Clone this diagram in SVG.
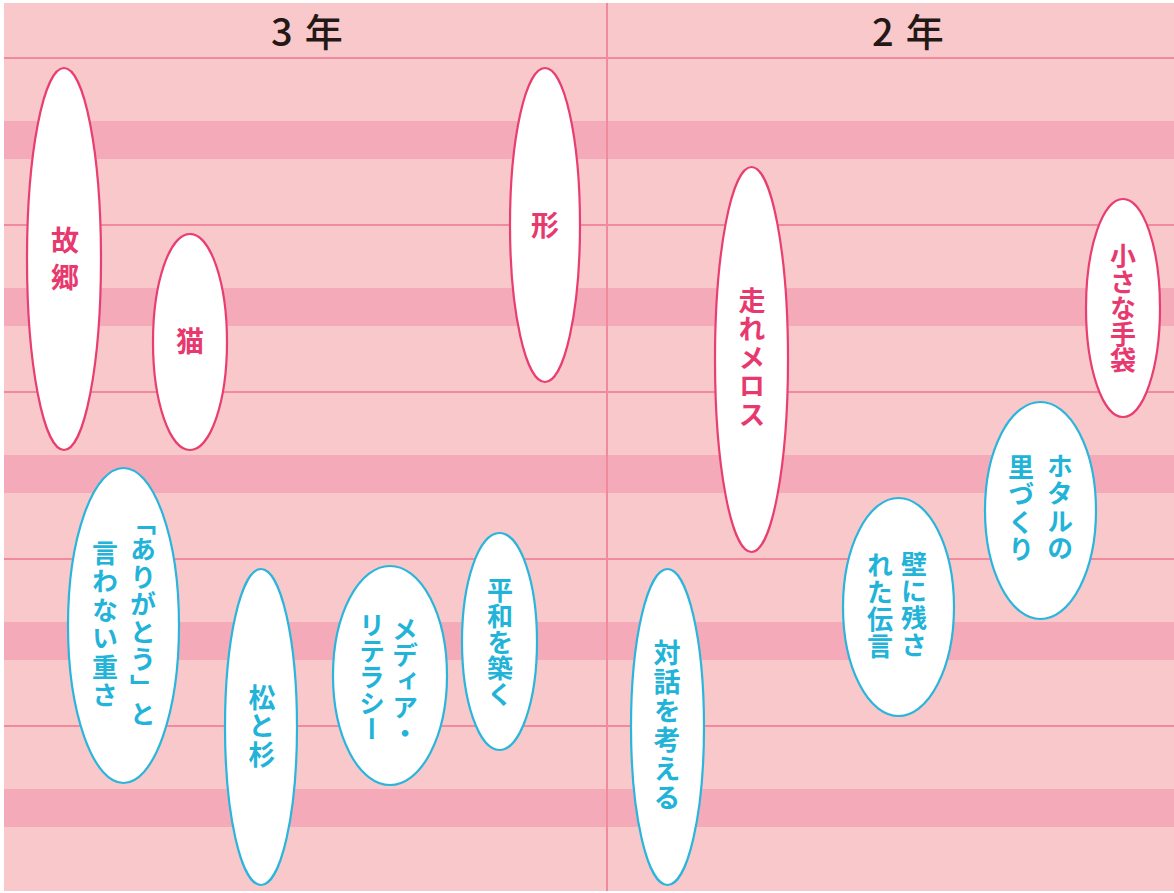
<svg xmlns="http://www.w3.org/2000/svg" width="1174" height="893" viewBox="0 0 1174 893">
<style>
.bg{fill:#f8c8cb}
.band{fill:#f4aab9}
.rule{stroke:#f28a9e;stroke-width:2;fill:none}
.head{font-family:"Noto Sans CJK JP","Noto Sans",sans-serif;font-size:38px;font-weight:500;fill:#231815;letter-spacing:12px}
.ep{fill:#fff;stroke:#e83e70;stroke-width:2.2}
.eb{fill:#fff;stroke:#2ab5dc;stroke-width:2.2}
.v{font-family:"Noto Sans CJK JP",sans-serif;font-size:26px;font-weight:700;writing-mode:vertical-rl}
.tp{fill:#e8396f}
.tb{fill:#22b3d9}
</style>
<rect width="1174" height="893" fill="#fff"/>
<g id="background">
<rect class="bg" x="4" y="3" width="1170" height="888"/>
<rect class="band" x="4" y="121" width="1170" height="38"/>
<rect class="band" x="4" y="288" width="1170" height="38"/>
<rect class="band" x="4" y="455" width="1170" height="38"/>
<rect class="band" x="4" y="622" width="1170" height="38"/>
<rect class="band" x="4" y="789" width="1170" height="38"/>
<path class="rule" d="M4 58H1174M4 225H1174M4 392H1174M4 559H1174M4 726H1174M607 3V891"/>
<text class="head" x="271" y="46">3年</text>
<text class="head" x="872" y="46">2年</text>
</g>
<g id="connectors"/>
<g id="n-kokyo"><ellipse class="ep" cx="64" cy="259" rx="37" ry="191"/><text class="v tp" x="65" y="226" style="font-size:28px;letter-spacing:9px">故郷</text></g>
<g id="n-neko"><ellipse class="ep" cx="190" cy="342" rx="37" ry="108"/><text class="v tp" x="190" y="327" style="font-size:28px">猫</text></g>
<g id="n-katachi"><ellipse class="ep" cx="545" cy="225" rx="35" ry="157"/><text class="v tp" x="545" y="211" style="font-size:28px">形</text></g>
<g id="n-melos"><ellipse class="ep" cx="751.5" cy="359.5" rx="36.5" ry="192.5"/><text class="v tp" x="752" y="287" style="font-size:27px;letter-spacing:1.5px">走れメロス</text></g>
<g id="n-tebukuro"><ellipse class="ep" cx="1123" cy="308" rx="37" ry="109"/><text class="v tp" x="1123" y="243">小さな手袋</text></g>
<g id="n-hotaru"><ellipse class="eb" cx="1040.5" cy="510.5" rx="55.5" ry="108.5"/><text class="v tb" x="1060" y="453" style="letter-spacing:1.5px">ホタルの</text><text class="v tb" x="1021" y="454" style="letter-spacing:1.5px">里づくり</text></g>
<g id="n-kabe"><ellipse class="eb" cx="898.5" cy="607" rx="55.5" ry="109"/><text class="v tb" x="914" y="551" style="letter-spacing:1px">壁に残さ</text><text class="v tb" x="880" y="552" style="letter-spacing:1px">れた伝言</text></g>
<g id="n-taiwa"><ellipse class="eb" cx="667.5" cy="727" rx="36.5" ry="158"/><text class="v tb" x="667" y="639" style="font-size:27px;letter-spacing:2px">対話を考える</text></g>
<g id="n-arigatou"><ellipse class="eb" cx="123.5" cy="625.5" rx="55.5" ry="157.5"/><text class="v tb" x="143" y="509" style="letter-spacing:1.5px">「ありがとう」と</text><text class="v tb" x="105" y="540" style="letter-spacing:2.5px">言わない重さ</text></g>
<g id="n-matsu"><ellipse class="eb" cx="261" cy="727" rx="36" ry="158"/><text class="v tb" x="262" y="684" style="font-size:27px;letter-spacing:1.7px">松と杉</text></g>
<g id="n-media"><ellipse class="eb" cx="390" cy="675.5" rx="57" ry="109.5"/><text class="v tb" x="405" y="616">メディア・</text><text class="v tb" x="372" y="612">リテラシー</text></g>
<g id="n-heiwa"><ellipse class="eb" cx="499.5" cy="641.5" rx="37.5" ry="108.5"/><text class="v tb" x="500" y="577">平和を築く</text></g>
</svg>
